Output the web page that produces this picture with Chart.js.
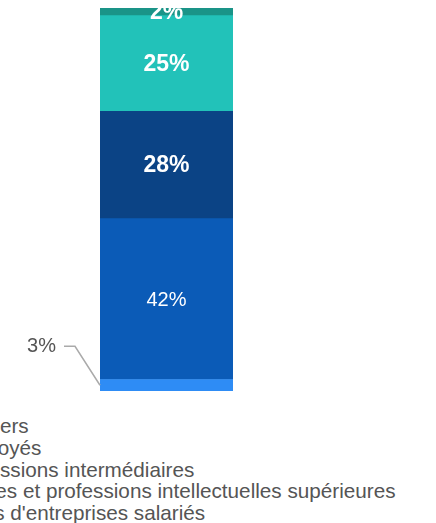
<!DOCTYPE html>
<html lang="fr">
<head>
<meta charset="utf-8">
<script src="https://cdn.jsdelivr.net/npm/chart.js@4/dist/chart.umd.min.js"></script>
<style>
    html, body { margin: 0; padding: 0; background: #fff; overflow: hidden; }
    body { width: 436px; height: 523px; position: relative; font-family: "Liberation Sans", Arial, sans-serif; }
    #chart-box { position: absolute; left: 0; top: 0; width: 436px; height: 400px; }
    #legende { position: absolute; left: -49.5px; top: 415px; font-size: 20.7px; line-height: 21.8px; color: #555; white-space: nowrap; }
    #legende .item { position: relative; }
    #legende .swatch { position: absolute; left: -26px; top: 4px; width: 14px; height: 14px; }
</style>
</head>
<body>
<div id="chart-box"><canvas id="graficoCSP"></canvas></div>
<div id="legende"></div>

<script>
// --- DONNÉES ---
const categories = ['Total'];
const seriesNames = [
    'Ouvriers',
    'Employés',
    'Professions intermédiaires',
    'Cadres et professions intellectuelles supérieures',
    "Chefs d'entreprises salariés"
];
const seriesValues = [3, 42, 28, 25, 2];
const seriesColors = ['#2e8cf5', '#0b5bb7', '#0b4385', '#22c2b9', '#1a9488'];

// style des étiquettes (par série)
const labelFonts = ['normal 20px', 'normal 20px', 'bold 23px', 'bold 23px', 'bold 23px'];
const outsideLabels = [true, false, false, false, false];

// --- ÉTIQUETTES SUR LES BARRES ---
const etiquettesPlugin = {
    id: 'etiquettes',
    afterDatasetsDraw(chart) {
        const ctx = chart.ctx;
        ctx.save();
        ctx.textAlign = 'center';
        ctx.textBaseline = 'middle';
        chart.data.datasets.forEach((ds, i) => {
            const bar = chart.getDatasetMeta(i).data[0];
            if (!bar) return;
            const cy = (bar.y + bar.base) / 2;
            const left = bar.x - bar.width / 2;
            const txt = ds.data[0] + '%';
            ctx.font = labelFonts[i] + ' "Liberation Sans", Arial, sans-serif';
            if (outsideLabels[i]) {
                // trait de rappel + texte à gauche
                ctx.strokeStyle = '#aaaaaa';
                ctx.lineWidth = 1.5;
                ctx.beginPath();
                ctx.moveTo(left, cy);
                ctx.lineTo(left - 25, cy - 39);
                ctx.lineTo(left - 36, cy - 39);
                ctx.stroke();
                ctx.fillStyle = '#555';
                ctx.textAlign = 'right';
                ctx.fillText(txt, left - 44, cy - 39);
                ctx.textAlign = 'center';
            } else {
                ctx.fillStyle = '#ffffff';
                ctx.fillText(txt, bar.x, cy + 1);
            }
        });
        ctx.restore();
    }
};

// --- GRAPHIQUE ---
const ctx = document.getElementById('graficoCSP').getContext('2d');
new Chart(ctx, {
    type: 'bar',
    data: {
        labels: categories,
        datasets: seriesNames.map((name, i) => ({
            label: name,
            data: [seriesValues[i]],
            backgroundColor: seriesColors[i],
            borderWidth: 0,
            barPercentage: 1,
            categoryPercentage: 1
        }))
    },
    options: {
        responsive: true,
        maintainAspectRatio: false,
        animation: false,
        layout: { padding: { left: 100, right: 203, top: 8, bottom: 9 } },
        plugins: {
            legend: { display: false },
            tooltip: { enabled: false }
        },
        scales: {
            x: { stacked: true, display: false },
            y: { stacked: true, display: false, min: 0, max: 100 }
        }
    },
    plugins: [etiquettesPlugin]
});

// --- LÉGENDE ---
const legende = document.getElementById('legende');
seriesNames.forEach((name, i) => {
    const item = document.createElement('div');
    item.className = 'item';
    const sw = document.createElement('span');
    sw.className = 'swatch';
    sw.style.background = seriesColors[i];
    item.appendChild(sw);
    item.appendChild(document.createTextNode(name));
    legende.appendChild(item);
});
</script>
</body>
</html>
